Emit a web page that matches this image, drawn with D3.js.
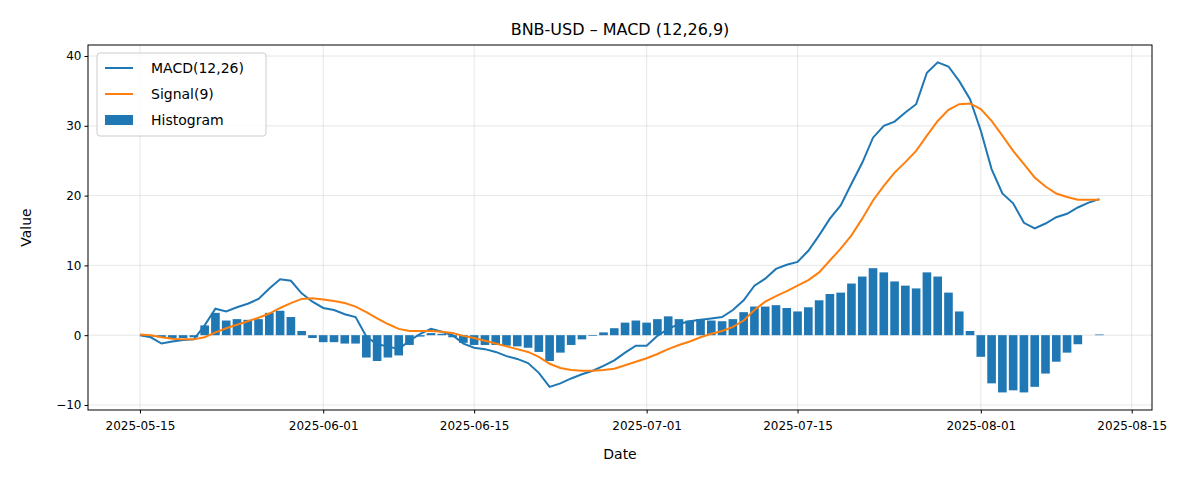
<!DOCTYPE html>
<html><head><meta charset="utf-8">
<script src="https://cdn.jsdelivr.net/npm/d3@7"></script>
<style>body{margin:0;background:#fff;font-family:"DejaVu Sans",sans-serif}</style>
</head><body><div id="chart"></div>
<script>
// daily values from 2025-05-15
var startDate = "2025-05-15";
var macd = [0,-0.3,-1.2,-0.9,-0.7,-0.6,1.4,3.8,3.4,4.0,4.5,5.2,6.7,8.0,7.8,6.0,4.8,3.9,3.6,3.0,2.6,-0.2,-1.3,-1.6,-2.0,-0.8,0.2,0.9,0.5,0,-1.2,
  -1.8,-2.0,-2.4,-3.0,-3.4,-4.0,-5.4,-7.4,-6.9,-6.2,-5.6,-5.1,-4.4,-3.6,-2.5,-1.5,-1.5,-0.1,0.9,1.6,2.0,2.2,2.4,2.6,3.6,5.0,7.1,8.1,9.5,10.1,
  10.5,12.1,14.3,16.7,18.6,21.7,24.7,28.3,30.0,30.6,31.9,33.1,37.6,39.1,38.5,36.4,33.8,29.3,23.8,20.3,18.9,16.1,15.3,16.0,16.9,17.4,18.3,19.0,19.5];
var signal = [0.1,0,-0.3,-0.5,-0.6,-0.6,-0.3,0.4,1.0,1.5,2.0,2.5,3.1,3.9,4.6,5.2,5.3,5.1,4.9,4.6,4.1,3.3,2.4,1.6,0.9,0.6,0.6,0.6,0.5,0.3,-0.1,
  -0.4,-0.8,-1.2,-1.6,-2.0,-2.4,-3.1,-4.1,-4.7,-5.0,-5.1,-5.1,-5.0,-4.8,-4.3,-3.8,-3.3,-2.7,-2.0,-1.4,-0.9,-0.3,0.2,0.6,1.2,2.1,3.6,4.8,5.6,6.3,
  7.1,7.9,9.0,10.7,12.4,14.3,16.7,19.3,21.4,23.3,24.8,26.4,28.6,30.7,32.3,33.1,33.2,32.4,30.7,28.6,26.4,24.5,22.6,21.3,20.3,19.8,19.4,19.4,19.4];
var hist = [0,-0.2,-0.3,-0.4,-0.4,-0.3,1.4,3.2,2.1,2.3,2.2,2.3,3.2,3.5,2.6,0.6,-0.4,-1.0,-1.0,-1.2,-1.2,-3.2,-3.7,-3.2,-2.9,-1.4,-0.2,0.3,0.2,-0.3,-1.1,
  -1.4,-1.4,-1.4,-1.5,-1.6,-1.8,-2.4,-3.7,-2.5,-1.4,-0.6,-0.1,0.4,1.0,1.8,2.1,1.8,2.3,2.7,2.3,2.1,2.3,2.1,2.0,2.3,3.3,4.1,4.1,4.3,
  3.9,3.4,4.0,5.0,5.9,6.1,7.4,8.4,9.6,9.0,7.7,7.1,6.7,9.0,8.4,6.1,3.4,0.6,-3.1,-6.9,-8.2,-7.9,-8.2,-7.4,-5.5,-3.8,-2.5,-1.3,0,0.1];
var xTicks = ["2025-05-15","2025-06-01","2025-06-15","2025-07-01","2025-07-15","2025-08-01","2025-08-15"];
var yTicks = [-10,0,10,20,30,40];

var W = 1200, H = 480, L = 88, R = 1152, T = 45, B = 410;
var day = 864e5, t0 = new Date(startDate + "T00:00:00Z");
var dates = macd.map((d, i) => new Date(+t0 + i * day));

var x = d3.scaleUtc().domain([new Date(+t0 - 4.82 * day), new Date(+t0 + 93.88 * day)]).range([L, R]);
var y = d3.scaleLinear().domain([-10.72, 41.58]).range([B, T]);

var svg = d3.select("#chart").append("svg").attr("width", W).attr("height", H)
  .style("font-family", "DejaVu Sans, sans-serif");

// grid
var tickDates = xTicks.map(s => new Date(s + "T00:00:00Z"));
svg.append("g").selectAll("line").data(tickDates).join("line")
  .attr("x1", d => x(d)).attr("x2", d => x(d)).attr("y1", T).attr("y2", B)
  .attr("stroke", "#b0b0b0").attr("stroke-opacity", 0.3);
svg.append("g").selectAll("line").data(yTicks).join("line")
  .attr("x1", L).attr("x2", R).attr("y1", d => y(d)).attr("y2", d => y(d))
  .attr("stroke", "#b0b0b0").attr("stroke-opacity", 0.3);

var bw = x(new Date(+t0 + 0.8 * day)) - x(t0);
svg.append("g").selectAll("rect").data(hist).join("rect")
  .attr("x", (d, i) => x(dates[i]) - bw / 2).attr("width", bw)
  .attr("y", d => y(Math.max(0, d))).attr("height", d => Math.abs(y(d) - y(0)))
  .attr("fill", "#1f77b4");

var line = d3.line().x((d, i) => x(dates[i])).y(d => y(d));
svg.append("path").datum(macd).attr("d", line).attr("fill", "none").attr("stroke", "#1f77b4").attr("stroke-width", 2);
svg.append("path").datum(signal).attr("d", line).attr("fill", "none").attr("stroke", "#ff7f0e").attr("stroke-width", 2);

svg.append("rect").attr("x", L).attr("y", T).attr("width", R - L).attr("height", B - T)
  .attr("fill", "none").attr("stroke", "#000").attr("stroke-width", 1);

var xa = svg.append("g").attr("transform", `translate(0,${B})`)
  .call(d3.axisBottom(x).tickValues(tickDates).tickFormat(d3.utcFormat("%Y-%m-%d")).tickSizeOuter(0).tickSize(3.5));
var ya = svg.append("g").attr("transform", `translate(${L},0)`)
  .call(d3.axisLeft(y).tickValues(yTicks).tickSizeOuter(0).tickSize(3.5));
[xa, ya].forEach(a => { a.select(".domain").remove(); a.selectAll("text").attr("font-size", 12).attr("fill", "#000").attr("font-family", "DejaVu Sans"); });
xa.selectAll("text").attr("dy", "1.1em");

svg.append("text").attr("x", (L + R) / 2).attr("y", 35).attr("text-anchor", "middle").attr("font-size", 16).text("BNB-USD – MACD (12,26,9)");
svg.append("text").attr("x", (L + R) / 2).attr("y", 459).attr("text-anchor", "middle").attr("font-size", 14).text("Date");
svg.append("text").attr("transform", `translate(31,${(T + B) / 2}) rotate(-90)`).attr("text-anchor", "middle").attr("font-size", 14).text("Value");

// legend
var lg = svg.append("g").attr("transform", "translate(97,53)");
lg.append("rect").attr("width", 169).attr("height", 83).attr("rx", 3).attr("fill", "#fff").attr("fill-opacity", 0.8).attr("stroke", "#ccc");
var items = [{n: "MACD(12,26)", c: "#1f77b4", t: "line"}, {n: "Signal(9)", c: "#ff7f0e", t: "line"}, {n: "Histogram", c: "#1f77b4", t: "bar"}];
items.forEach((it, i) => {
  var yy = 15 + i * 26;
  if (it.t === "line") lg.append("line").attr("x1", 8).attr("x2", 36).attr("y1", yy).attr("y2", yy).attr("stroke", it.c).attr("stroke-width", 2);
  else lg.append("rect").attr("x", 8).attr("y", yy - 5).attr("width", 28).attr("height", 10).attr("fill", it.c);
  lg.append("text").attr("x", 54).attr("y", yy + 5).attr("font-size", 14).text(it.n);
});
</script></body></html>
